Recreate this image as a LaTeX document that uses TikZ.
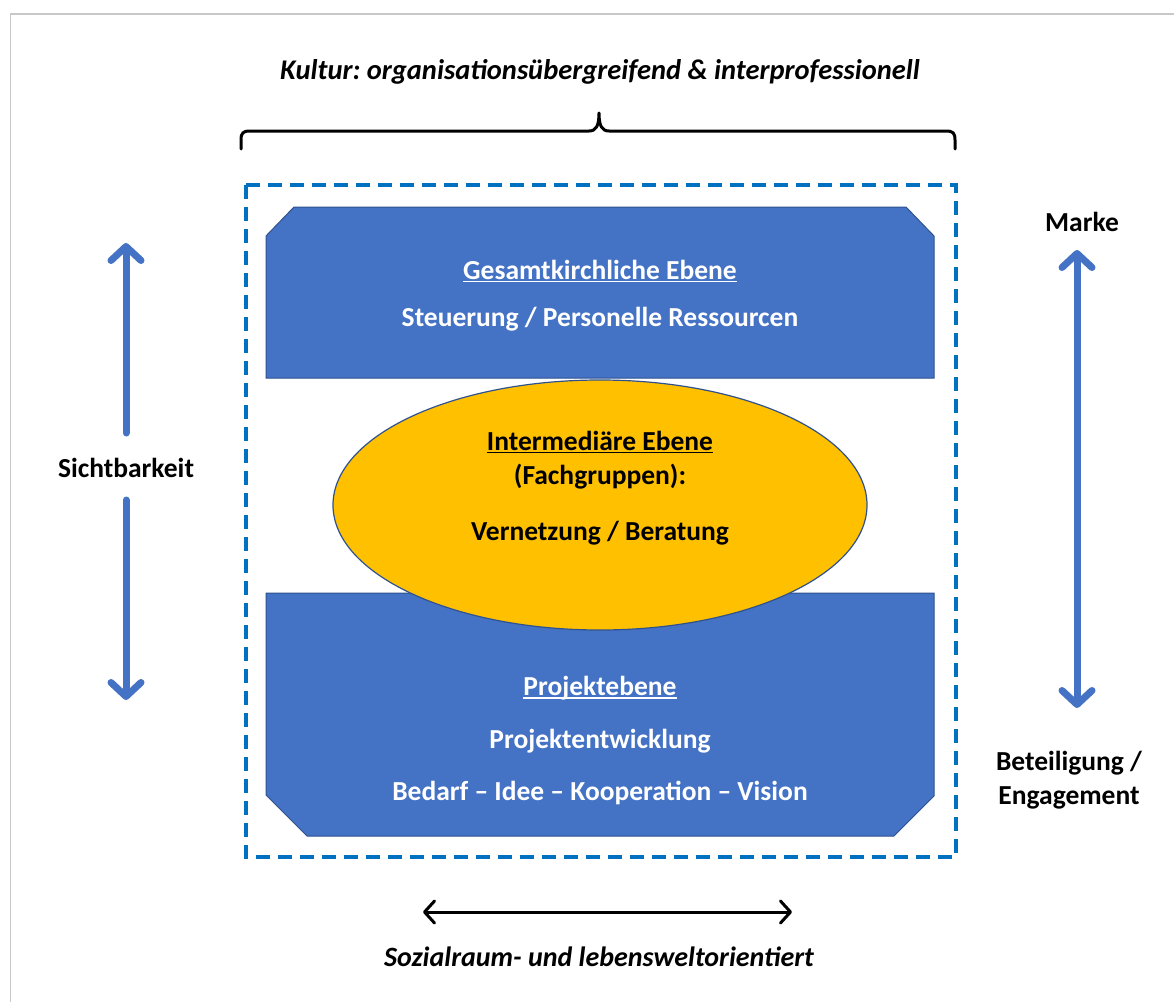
\documentclass[tikz,border=0pt]{standalone}
\usepackage{fontspec}
\setmainfont{Carlito}
\usetikzlibrary{arrows.meta,shapes.geometric}
\frenchspacing

\definecolor{boxblue}{HTML}{4472C4}
\definecolor{boxedge}{HTML}{2F528F}
\definecolor{gold}{HTML}{FFC000}
\definecolor{dashblue}{HTML}{0070C0}
\definecolor{framegray}{HTML}{C8C8C8}

% underline drawn as a rule just below the baseline
\newcommand\ulinetext[1]{\setbox0\hbox{#1}\rlap{\rule[-3.2pt]{\wd0}{1.7pt}}\box0}

\tikzset{
  txt/.style={font=\fontsize{27.5}{34}\selectfont\bfseries, inner sep=0pt, align=center},
  itxt/.style={font=\fontsize{28.5}{34}\selectfont\bfseries\itshape, inner sep=0pt},
  wtxt/.style={txt, text=white},
  level/.style={fill=boxblue, draw=boxedge, line width=1pt},
  barb/.tip={Straight Barb[length=14pt, width=30pt, line cap=round, line join=round]},
  smallbarb/.tip={Straight Barb[length=10pt, width=22pt, line cap=round, line join=round]},
  bluearrow/.style={draw=boxblue, line width=7pt, line cap=round},
  blackarrow/.style={draw=black, line width=3pt, smallbarb-smallbarb},
}

\begin{document}
\begin{tikzpicture}[x=1pt,y=-1pt]
\useasboundingbox (0,0) rectangle (1174,1001);
\fill[white] (0,0) rectangle (1174,1001);
\draw[framegray, line width=1.5pt] (10.5,1010) -- (10.5,14) -- (1180,14);

% heading and brace
\node[itxt] (kultur) at (600,72) {Kultur: organisationsübergreifend \& interprofessionell};
\draw[line width=3pt, line cap=round, line join=round]
  (241,149) -- (241,140) .. controls (241,133) and (243,131) .. (250,131)
  -- (589,131) .. controls (596,131) and (599,126) .. (599,113)
  .. controls (599,126) and (602,131) .. (609,131)
  -- (946,131) .. controls (953,131) and (955,133) .. (955,140) -- (955,149);

% dashed frame
\draw[dashblue, line width=4.5pt, dash pattern=on 14pt off 8pt] (246,185) rectangle (956,857);

% upper level
\path[level] (266,236) -- (294,207) -- (906,207) -- (934,236) -- (934,378) -- (266,378) -- cycle;
\node[wtxt] (gesamt) at (600,271) {\ulinetext{Gesamtkirchliche Ebene}};
\node[wtxt] (steuer) at (600,319) {Steuerung / Personelle Ressourcen};

% lower level
\path[level] (266,593) -- (934,593) -- (934,796) -- (894,836) -- (307,836) -- (266,795) -- cycle;
\node[wtxt] (projekt) at (600,688) {\ulinetext{Projektebene}};
\node[wtxt] (entw) at (600,741) {Projektentwicklung};
\node[wtxt] (bedarf) at (600,793) {Bedarf – Idee – Kooperation – Vision};

% intermediate level
\node[ellipse, fill=gold, draw=boxedge, line width=1.2pt, inner sep=0pt,
      minimum width=534pt, minimum height=250pt] (mid) at (600,505) {};
\node[txt] (inter) at (600,442) {\ulinetext{Intermediäre Ebene}};
\node[txt] (fach) at (600,477) {(Fachgruppen):};
\node[txt] (vernetz) at (600,533) {Vernetzung / Beratung};

% left axis
\node[txt] (sicht) at (126,468) {Sichtbarkeit};
\coordinate (sTop) at (126,243);
\coordinate (sBot) at (126,700);
\draw[bluearrow, barb-] (sTop) -- ([yshift=35pt]sicht.center);
\draw[bluearrow, -barb] ([yshift=-32pt]sicht.center) -- (sBot);

% right axis
\node[txt] (marke) at (1082,222) {Marke};
\node[txt] (beteil) at (1069,780) {Beteiligung /\\Engagement};
\coordinate (rTop) at (1077,250);
\coordinate (rBot) at (1077,708);
\draw[bluearrow, barb-barb] (rTop) -- (rBot);

% bottom axis
\coordinate (bL) at (423,912);
\coordinate (bR) at (792,912);
\draw[blackarrow] (bL) -- (bR);
\node[itxt, font=\fontsize{28}{34}\selectfont\bfseries\itshape] (sozial) at (599,957) {Sozialraum- und lebensweltorientiert};
\end{tikzpicture}
\end{document}
